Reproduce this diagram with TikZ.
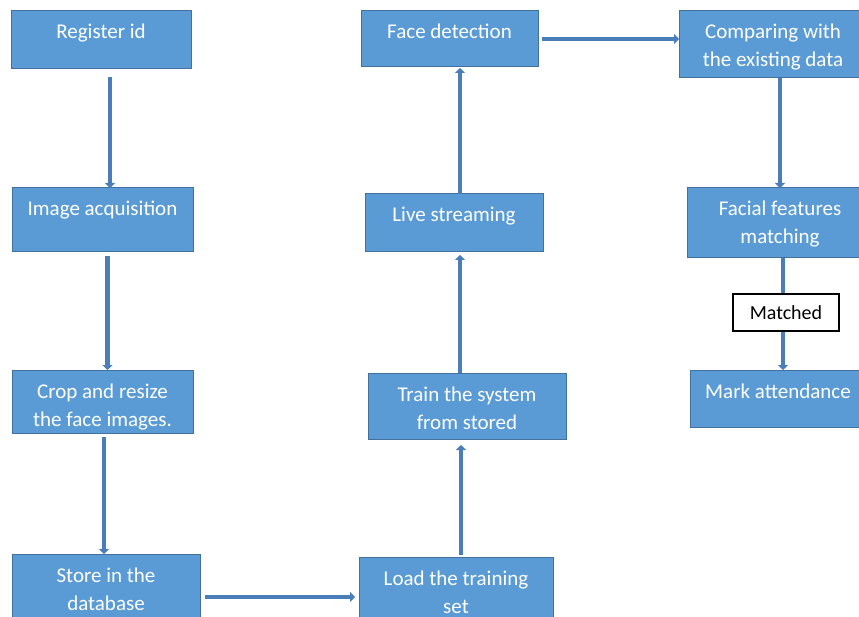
\documentclass[tikz,border=0pt]{standalone}
\usepackage{fontspec}
\setmainfont{Carlito}
\usetikzlibrary{arrows.meta}
\definecolor{boxfill}{HTML}{5B9BD5}
\definecolor{boxline}{HTML}{41719C}
\definecolor{arrowc}{HTML}{4A7EBB}
\newcommand\bxt[3]{\begin{minipage}[c][#2pt][t]{#1pt}\centering\rule{0pt}{28pt}#3\end{minipage}}
\begin{document}
\begin{tikzpicture}[x=1pt,y=-1pt,
  box/.style={draw=boxline, line width=1pt, fill=boxfill, inner sep=0pt, outer sep=0pt,
    text=white, font=\fontsize{21}{28}\selectfont},
  arr/.style={draw=arrowc, line width=4.5pt, -{Triangle[width=10pt,length=5pt]}},
  tag/.style={draw=black, line width=1.2pt, fill=white, inner sep=0pt, outer sep=0pt,
    minimum width=106pt, minimum height=37pt, font=\fontsize{20}{24}\selectfont}]
\useasboundingbox (0,0) rectangle (859,617);
\fill[white] (0,0) rectangle (859,617);

\node[box] (reg)    at (101,40)    {\bxt{180}{58}{Register id}};
\node[box] (img)    at (102.5,220) {\bxt{181}{64}{Image acquisition}};
\node[box] (crop)   at (102.5,401.5) {\bxt{181}{63}{Crop and resize\\the face images.}};
\node[box] (store)  at (106,589)   {\bxt{188}{70}{Store in the\\database}};
\node[box] (load)   at (456,592)   {\bxt{194}{70}{Load the training\\set}};
\node[box] (train)  at (467,406)   {\bxt{198}{66}{Train the system\\from stored}};
\node[box] (live)   at (454,223)   {\bxt{178}{58}{Live streaming}};
\node[box] (face)   at (449.5,39)  {\bxt{177}{56}{Face detection}};
\node[box] (comp)   at (773,44.5)  {\bxt{188}{67}{Comparing with\\the existing data}};
\node[box] (facial) at (780,223)   {\bxt{186}{70}{Facial features\\matching}};
\node[box] (mark)   at (778,398.5) {\bxt{176}{57}{Mark attendance}};

\draw[arr, shorten <=8pt] ([xshift=9pt]reg.south) -- ([xshift=9pt]reg.south |- img.north);
\draw[arr, shorten <=4pt] ([xshift=5pt]img.south) -- ([xshift=5pt]img.south |- crop.north);
\draw[arr, shorten <=4pt] ([xshift=1.5pt]crop.south) -- ([xshift=1.5pt]crop.south |- store.north);
\draw[arr, shorten <=5pt, shorten >=4pt] ([yshift=-8pt]store.east) -- ([yshift=-8pt]store.east -| load.west);
\draw[arr, shorten <=2pt, shorten >=6pt] ([xshift=5pt]load.north) -- ([xshift=5pt]load.north |- train.south);
\draw[arr, shorten >=3pt] ([xshift=-7pt]train.north) -- ([xshift=-7pt]train.north |- live.south);
\draw[arr, shorten >=1pt] ([xshift=6pt]live.north) -- ([xshift=6pt]live.north |- face.south);
\draw[arr, shorten <=4pt] (face.east) -- (face.east -| comp.west);
\draw[arr] ([xshift=7pt]comp.south) -- ([xshift=7pt]comp.south |- facial.north);
\draw[arr] ([xshift=3pt]facial.south) -- ([xshift=3pt]facial.south |- mark.north);

\node[tag] (matched) at (786,312.5) {Matched};
\end{tikzpicture}
\end{document}
